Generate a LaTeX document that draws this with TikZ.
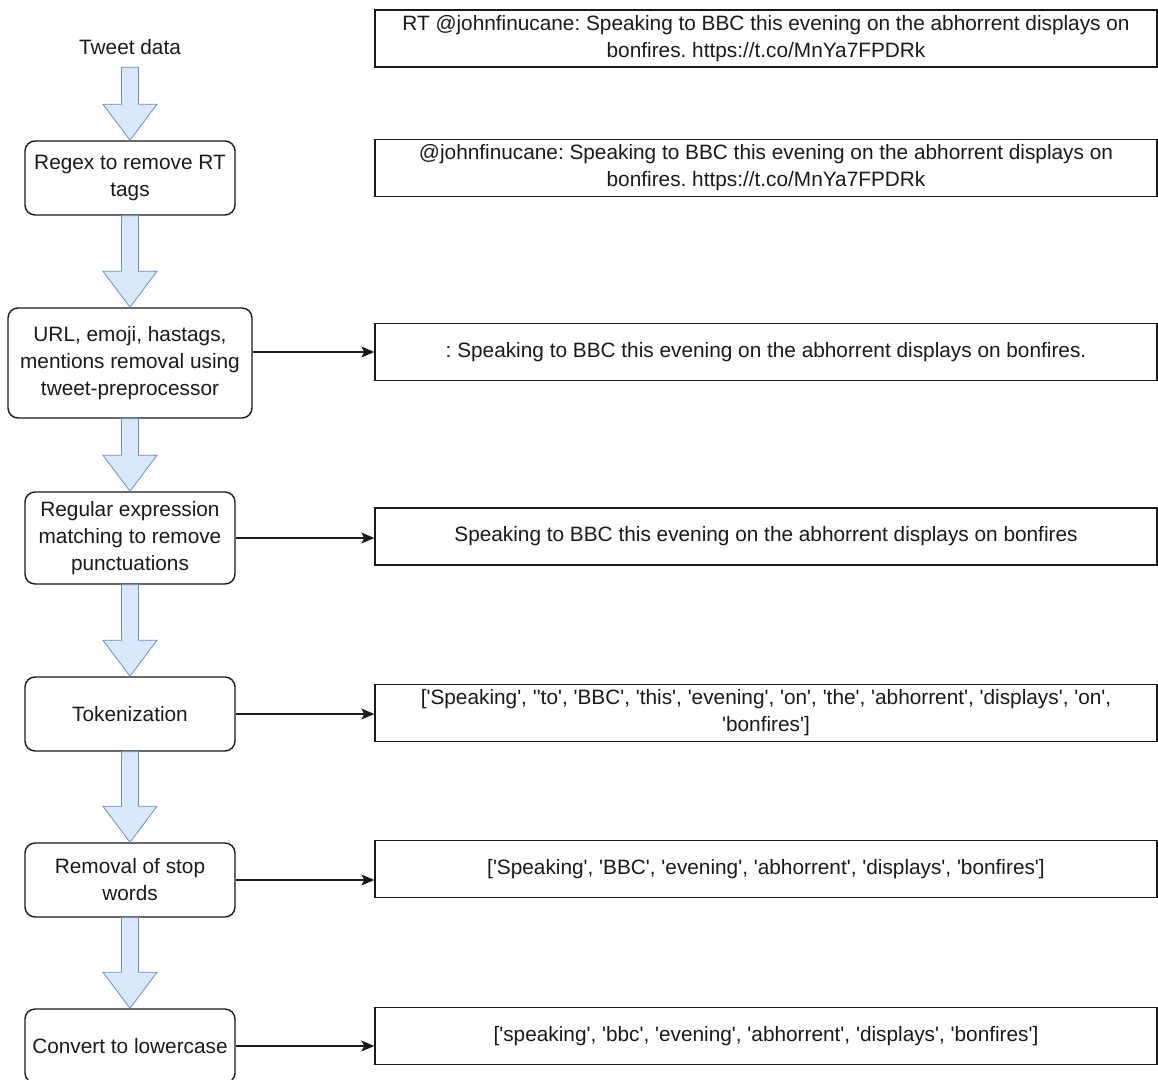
\documentclass[tikz,border=0pt]{standalone}
\usepackage{fontspec}
\setmainfont{Liberation Sans}[Ligatures=TeXOff]
\usetikzlibrary{calc,arrows.meta}
\definecolor{arrowfill}{HTML}{DAE8FC}
\definecolor{arrowstroke}{HTML}{6C8EBF}
\definecolor{inkc}{HTML}{1A1A1A}
\tikzset{
  txt/.style={font=\fontsize{20.8}{27}\selectfont\frenchspacing, text=inkc, align=center},
  stepbox/.style={txt, draw=inkc, line width=1.4pt, rounded corners=10pt, inner sep=0pt},
  outbox/.style={txt, draw=inkc, line width=1.4pt, minimum width=782pt, minimum height=57pt, inner sep=0pt},
  blockarrow/.style={draw=arrowstroke, fill=arrowfill, line width=0.8pt, line join=miter},
  link/.style={draw=inkc, line width=1.3pt, -{Stealth[length=13pt,width=11pt,inset=3pt]}}
}
\newcommand\blockarr[2]{%
  \path[blockarrow] let \p1=(#1), \p2=(#2) in
    (\x1-8.5pt,\y1) -- (\x1+8.5pt,\y1) -- (\x1+8.5pt,\y2+36pt) -- (\x1+27pt,\y2+36pt)
    -- (\x1,\y2) -- (\x1-27pt,\y2+36pt) -- (\x1-8.5pt,\y2+36pt) -- cycle;}
\begin{document}
\frenchspacing
\begin{tikzpicture}[x=1pt,y=-1pt]
\useasboundingbox (0,0) rectangle (1158,1079);
\fill[white] (0,0) rectangle (1158,1079);
% left column
\node[txt, inner sep=0pt, minimum height=40pt] (tweet) at (130,47) {Tweet data};
\node[stepbox, minimum width=210pt, minimum height=74pt] (regex) at (130,178) {Regex to remove RT\\tags};
\node[stepbox, minimum width=244pt, minimum height=110pt] (url) at (130,363) {URL, emoji, hastags,\\mentions removal using\\tweet-preprocessor};
\node[stepbox, minimum width=210pt, minimum height=92pt] (punct) at (130,538) {Regular expression\\matching to remove\\punctuations};
\node[stepbox, minimum width=210pt, minimum height=74pt] (tok) at (130,714) {Tokenization};
\node[stepbox, minimum width=210pt, minimum height=74pt] (stop) at (130,880) {Removal of stop\\words};
\node[stepbox, minimum width=210pt, minimum height=74pt] (lower) at (130,1046) {Convert to lowercase};
% right column
\node[outbox] (o1) at (766,38.5) {RT @johnfinucane: Speaking to BBC this evening on the abhorrent displays on\\bonfires. https://t.co/MnYa7FPDRk};
\node[outbox] (o2) at (766,168) {@johnfinucane: Speaking to BBC this evening on the abhorrent displays on\\bonfires. https://t.co/MnYa7FPDRk};
\node[outbox] (o3) at (766,352) {: Speaking to BBC this evening on the abhorrent displays on bonfires.};
\node[outbox] (o4) at (766,536.5) {Speaking to BBC this evening on the abhorrent displays on bonfires};
\node[outbox] (o5) at (766,713) {['Speaking', ''to', 'BBC', 'this', 'evening', 'on', 'the', 'abhorrent', 'displays', 'on',\\'bonfires']};
\node[outbox] (o6) at (766,869) {['Speaking', 'BBC', 'evening', 'abhorrent', 'displays', 'bonfires']};
\node[outbox] (o7) at (766,1036) {['speaking', 'bbc', 'evening', 'abhorrent', 'displays', 'bonfires']};
% block arrows
\blockarr{tweet.south}{regex.north}
\blockarr{regex.south}{url.north}
\blockarr{url.south}{punct.north}
\blockarr{punct.south}{tok.north}
\blockarr{tok.south}{stop.north}
\blockarr{stop.south}{lower.north}
% connectors
\draw[link] (url.east |- o3.west) -- (o3.west);
\draw[link] (punct.east) -- (punct.east -| o4.west);
\draw[link] (tok.east) -- (tok.east -| o5.west);
\draw[link] (stop.east) -- (stop.east -| o6.west);
\draw[link] (lower.east) -- (lower.east -| o7.west);
\end{tikzpicture}
\end{document}
